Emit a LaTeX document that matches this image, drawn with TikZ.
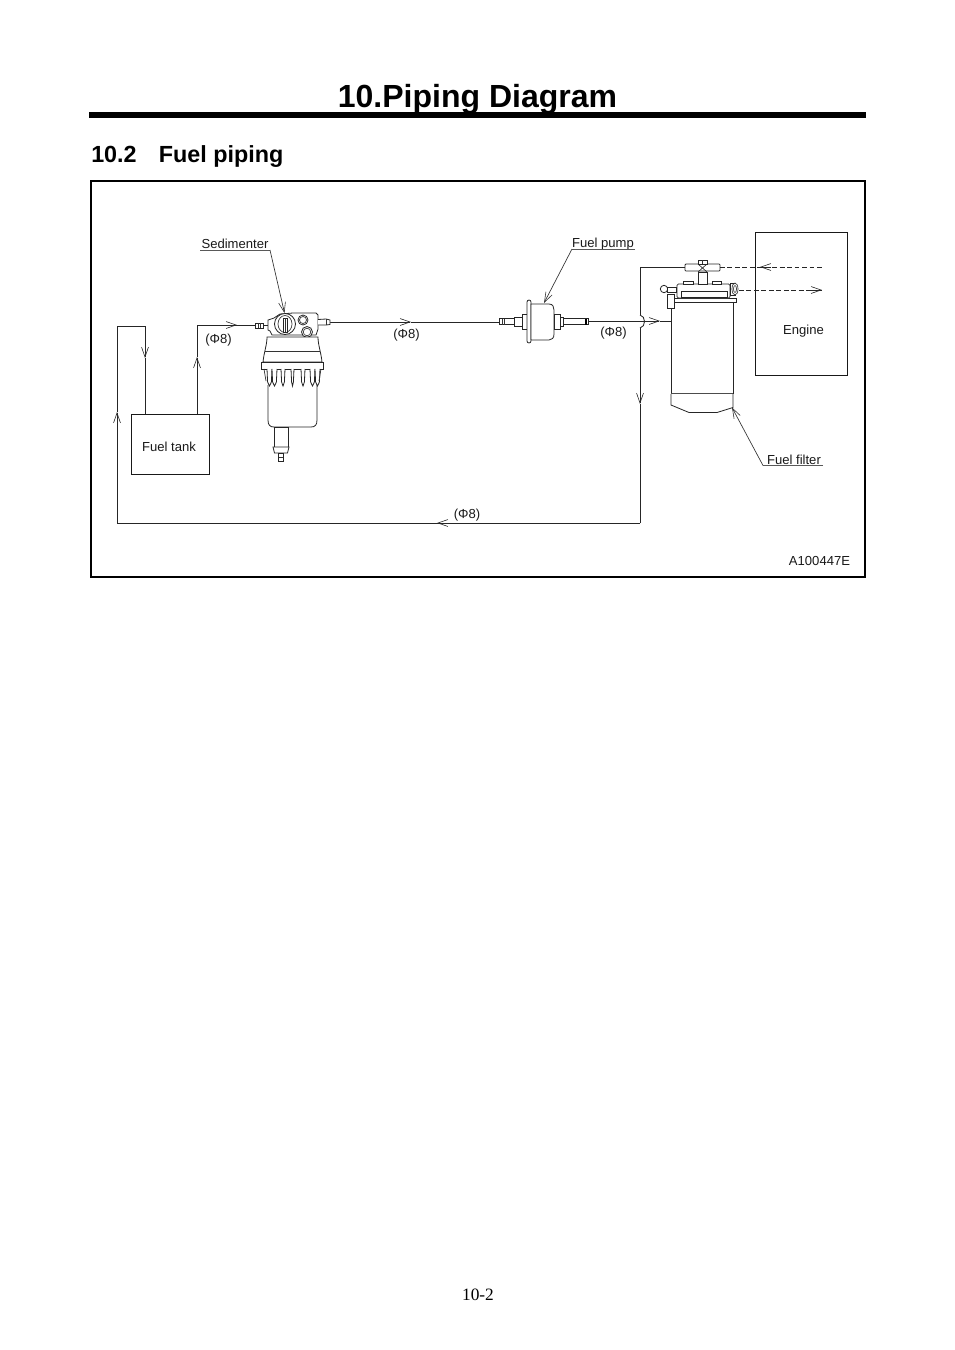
\documentclass[tikz,border=0pt]{standalone}
\usepackage{fontspec}
\setmainfont{Liberation Sans}
\newfontfamily\serifpage{Liberation Serif}
\usetikzlibrary{arrows.meta}
\tikzset{
  pipe/.style={line width=0.65pt,black!85},
  part/.style={line width=0.6pt,black!85,fill=white},
  thinpart/.style={line width=0.5pt,black!80},
  barb/.style={-{Straight Barb[length=7.5pt,width=5.2pt,line width=0.45pt]}},
  lbl/.style={font=\fontsize{9.8pt}{11pt}\selectfont,inner sep=0pt,black!90},
  box/.style={draw,line width=0.65pt,black!90,inner sep=0pt},
  leader/.style={line width=0.5pt,black!80},
  under/.style={line width=0.7pt,black!65},
  dashpipe/.style={line width=0.55pt,black!85,dash pattern=on 3.6pt off 2pt},
}
\begin{document}
\begin{tikzpicture}[x=0.75pt,y=-0.75pt]
\useasboundingbox (0,0) rectangle (954,1350);
% heading
\node[inner sep=0pt,font=\fontsize{24pt}{28pt}\selectfont\bfseries] (title) at (477.5,99.5) {10.Piping Diagram};
\fill (89,111.5) rectangle (866,117.5);
\node[inner sep=0pt,anchor=west,font=\fontsize{17.5pt}{20pt}\selectfont\bfseries] (sec) at (91,157) {10.2\hspace{0.95em}Fuel piping};
\draw[line width=1.5pt] (91,181) rectangle (865,577);

% boxes
\node[box,minimum width=59pt,minimum height=45pt] (tank) at (170.3,444) {};
\node[lbl] (tanklbl) at (169,446.5) {Fuel tank};
\node[box,minimum width=69.5pt,minimum height=107.25pt] (engine) at (801.3,303.5) {};
\node[lbl] (englbl) at (803.5,331) {Engine};

% named pipe points
\coordinate (tR) at (197,414);
\coordinate (tRa) at (197,357);
\coordinate (tRc) at (197,325);
\coordinate (tRb) at (237,325);
\coordinate (sedIn) at (255,325);
\coordinate (tL) at (145,414);
\coordinate (tLc) at (145,326);
\coordinate (tLa) at (145,358);
\coordinate (rTop) at (117,326);
\coordinate (rUp) at (117,412);
\coordinate (rBot) at (117,523);
\coordinate (rCor) at (640,523);
\coordinate (rLeft) at (437,523);
\coordinate (rDown) at (640,404);
\coordinate (bumpB) at (640,328);
\coordinate (bumpT) at (640,315);
\coordinate (rTopR) at (640,267);
\coordinate (headL) at (685,267);
\coordinate (sedOut) at (330,322);
\coordinate (sedOutA) at (411,322);
\coordinate (pumpIn) at (499,322);
\coordinate (pumpOut) at (588,321);
\coordinate (pumpOutA) at (660,321);
\coordinate (filtIn) at (671,321);

% pipes
\draw[pipe,barb] (tR) -- (tRa);
\draw[pipe] (tRa) -- (tRc) -- (tRb);
\draw[pipe,barb] (tRc) -- (tRb);
\draw[pipe] (tRb) -- (sedIn);
\draw[pipe,barb] (tLc) -- (tLa);
\draw[pipe] (tLa) -- (tL);
\draw[pipe] (tLc) -- (rTop) -- (rUp);
\draw[pipe,barb] (rBot) -- (rUp);
\draw[pipe] (rBot) -- (rCor);
\draw[pipe,barb] (rCor) -- (rLeft);
\draw[pipe] (rCor) -- (rDown);
\draw[pipe,barb] (bumpB) -- (rDown);
\draw[pipe] (bumpB) .. controls (646,327) and (646,316) .. (bumpT);
\draw[pipe] (bumpT) -- (rTopR) -- (headL);
\draw[pipe,barb] (sedOut) -- (sedOutA);
\draw[pipe] (sedOutA) -- (pumpIn);
\draw[pipe,barb] (pumpOut) -- (pumpOutA);
\draw[pipe] (pumpOutA) -- (filtIn);

% sedimenter
\draw[part] (255,323) rectangle (263,328);
\draw[thinpart] (258,323) -- (258,328) (260.5,323) -- (260.5,328);
\draw[part] (263,325.5) -- (268,325.5);
\draw[part] (268,320) -- (274,318) -- (280,314) -- (293,313) -- (316,313) -- (318,315) -- (318,329) -- (316,335) -- (272,335) -- (270,331) -- (268,330) -- cycle;
\draw[part] (318,319.5) -- (326,319) -- (330,320) -- (330,324.5) -- (326,325) -- (318,325);
\draw[thinpart] (326,319) -- (326,325);
\draw[part] (285,324) circle (10.5);
\draw[thinpart] (285,324) ellipse (7 and 8.5);
\draw[part] (283,318) rectangle (287,332);
\draw[thinpart] (285,318) -- (285,332);
\draw[part] (303,320) circle (5);
\draw[thinpart] (303,320) circle (3.5);
\draw[part] (307,332) circle (5.5);
\draw[thinpart] (307,332) circle (3.8);
\draw[part] (267,337) .. controls (267,345) and (264,352) .. (263,362) -- (322,362) .. controls (321,352) and (318,345) .. (318,337) -- cycle;
\draw[thinpart] (265,351) -- (320,351);
\draw[part] (261,362) rectangle (323,369);
\draw[part] (268,385) -- (268,420) .. controls (268,425) and (270,427) .. (274,427) -- (311,427) .. controls (315,427) and (317,425) .. (317,420) -- (317,385);
\foreach \fx/\fw in {267/5,272/5,281/4,291/3,301/4,310/5,315/5}{
  \draw[part] (\fx,369) -- (\fx+0.6,382) -- (\fx+\fw/2,386) -- (\fx+\fw-0.6,382) -- (\fx+\fw,369);
}
\draw[thinpart] (264,369) -- (266,381) (321,369) -- (319,381);
\draw[part] (274,427) rectangle (288,447);
\draw[part] (273,447) -- (274.5,453) -- (287.5,453) -- (289,447) -- cycle;
\draw[part] (278.5,453) rectangle (283,461);
\draw[thinpart] (278.5,457) -- (283,457);

% fuel pump
\draw[part] (499,318.5) rectangle (514,324.5);
\draw[thinpart] (502,318.5) -- (502,324.5) (504,318.5) -- (504,324.5);
\draw[part] (514,317) rectangle (522,326);
\draw[part] (522,314) rectangle (527,329);
\draw[part,rounded corners=1.5pt] (527,300) rectangle (531,343);
\draw[part] (531,304) -- (549,304) .. controls (553,304) and (554,307) .. (554,310) -- (554,334) .. controls (554,338) and (552,340) .. (549,340) -- (531,340) -- cycle;
\draw[part] (554,314) rectangle (560,329);
\draw[part] (560,317) rectangle (563,326);
\draw[part] (563,318.5) rectangle (588,324.5);
\draw[line width=0.9pt] (586,318.5) -- (586,324.5);

% fuel filter
\draw[part] (671,301) -- (671,393) -- (733,393) -- (733,301);
\draw[line width=1pt,black!70] (671,393.5) -- (733,393.5);
\draw[part] (671,394) -- (671,405) -- (689,412.5) -- (717,412.5) -- (733,407.5) -- (733,394);
\draw[part] (673,298) rectangle (736,302);
\draw[part,rounded corners=1pt] (677,284) -- (730,284) -- (730,298) -- (677,298) -- cycle;
\draw[part] (681,291) rectangle (727,297);
\draw[part] (683,281) rectangle (693,284);
\draw[part] (712,281) rectangle (721,284);
\draw[part] (730,283) rectangle (735,295);
\draw[thinpart,fill=white] (735,289) ellipse (3 and 6);
\draw[thinpart] (735,289) ellipse (1.5 and 3.5);
\draw[part] (667,294) rectangle (674,308);
\draw[part] (664,289) circle (3.7);
\draw[part] (667.5,287) rectangle (676,292);
\draw[pipe] (671,308) -- (filtIn);
\draw[part] (698,272) rectangle (707,284);
\draw[part,rounded corners=0.7pt] (685,264) rectangle (720,271);
\draw[thinpart] (698,264) -- (707,272) (707,264) -- (698,272);
\draw[part] (698,260) rectangle (707,264);
\draw[thinpart] (702.5,260) -- (702.5,264);

% dashed engine connections
\coordinate (dA) at (720,267);
\coordinate (dAe) at (822,267);
\coordinate (dAa) at (760,267);
\coordinate (dB) at (739,290);
\coordinate (dBe) at (822,290);
\draw[dashpipe] (dA) -- (dAe);
\draw[pipe,barb] (dAa) ++(11,0) -- (dAa);
\draw[dashpipe] (dB) -- (dBe);
\draw[pipe,barb] (dBe) ++(-11,0) -- (dBe);

% labels and leaders
\node[lbl] (sedlbl) at (235,243.5) {Sedimenter};
\node[lbl] (pumplbl) at (603,244) {Fuel pump};
\node[lbl] (filtlbl) at (794,459.5) {Fuel filter};
\coordinate (sedU) at (200,250);
\coordinate (sedK) at (270,250);
\coordinate (sedT) at (284.5,313);
\coordinate (pumpU) at (635,249);
\coordinate (pumpK) at (572,249);
\coordinate (pumpT) at (544,303);
\coordinate (filtU) at (823,465.5);
\coordinate (filtK) at (763,465.5);
\coordinate (filtT) at (732,407.5);
\draw[under] (sedU) -- (sedK);
\draw[leader,barb] (sedK) -- (sedT);
\draw[under] (pumpU) -- (pumpK);
\draw[leader,barb] (pumpK) -- (pumpT);
\draw[under] (filtU) -- (filtK);
\draw[leader,barb] (filtK) -- (filtT);

\node[lbl] (d1) at (218.5,340) {(Φ8)};
\node[lbl] (d2) at (406.5,335) {(Φ8)};
\node[lbl] (d3) at (613.5,333) {(Φ8)};
\node[lbl] (d4) at (467,515) {(Φ8)};
\node[lbl] (code) at (819.5,560.5) {A100447E};
\node[inner sep=0pt,font=\fontsize{13pt}{15pt}\selectfont\serifpage] (pg) at (478,1295) {10-2};
\end{tikzpicture}
\end{document}
